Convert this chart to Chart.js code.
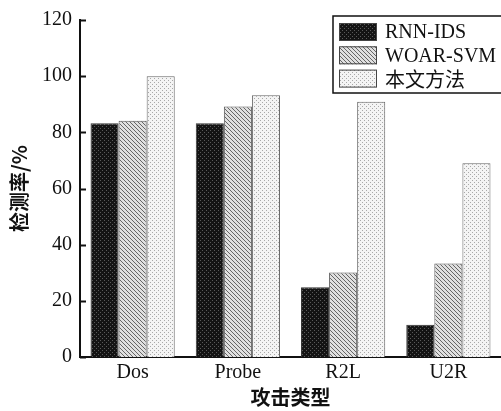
<!DOCTYPE html>
<html>
<head>
<meta charset="utf-8">
<script src="https://cdn.jsdelivr.net/npm/chart.js@4/dist/chart.umd.min.js"></script>
<style>
  html, body { margin: 0; padding: 0; background: #fff; }
  #wrap { width: 501px; height: 411px; }
</style>
</head>
<body>
<div id="wrap"><canvas id="detectChart" width="501" height="411"></canvas></div>
<script>
// Data
const attackTypes = ['Dos', 'Probe', 'R2L', 'U2R'];
const rnnIds = [83.2, 83.2, 24.8, 11.5];
const woarSvm = [84.1, 89.2, 30.1, 33.3];
const ourMethod = [100.0, 93.2, 90.9, 69.0];
const yTicks = [0, 20, 40, 60, 80, 100, 120];

// Small fill patterns like the printed figure
function makePattern(bg, drawFn, size) {
    const c = document.createElement('canvas');
    c.width = size; c.height = size;
    const g = c.getContext('2d');
    g.fillStyle = bg;
    g.fillRect(0, 0, size, size);
    drawFn(g);
    return document.getElementById('detectChart').getContext('2d').createPattern(c, 'repeat');
}

const darkDots = makePattern('#141414', g => {
    g.fillStyle = '#5a5a5a';
    g.fillRect(0, 0, 1, 1);
    g.fillRect(2, 2, 1, 1);
}, 4);

const hatch = makePattern('#e0e0e0', g => {
    g.strokeStyle = '#666';
    g.lineWidth = 1;
    g.beginPath();
    g.moveTo(0, 0); g.lineTo(4, 4);
    g.moveTo(-1, 3); g.lineTo(1, 5);
    g.moveTo(3, -1); g.lineTo(5, 1);
    g.stroke();
}, 4);

const lightDots = makePattern('#f4f4f4', g => {
    g.fillStyle = '#a8a8a8';
    g.fillRect(0, 0, 1, 1);
    g.fillRect(2, 2, 1, 1);
}, 4);

const serif = "'Liberation Serif', 'Times New Roman', serif";
const cjk = "'Noto Sans CJK SC', sans-serif";

// Inward tick marks on the y axis
const innerTicks = {
    id: 'innerTicks',
    afterDatasetsDraw(chart) {
        const ctx = chart.ctx;
        const y = chart.scales.y;
        const left = chart.chartArea.left;
        ctx.save();
        ctx.strokeStyle = '#111';
        ctx.lineWidth = 2;
        yTicks.forEach(v => {
            const py = Math.round(y.getPixelForValue(v)) + 0.5;
            ctx.beginPath();
            ctx.moveTo(left, py);
            ctx.lineTo(left + 6, py);
            ctx.stroke();
        });
        ctx.restore();
    }
};

// Boxed legend in the top right corner
const boxLegend = {
    id: 'boxLegend',
    afterDraw(chart) {
        const ctx = chart.ctx;
        const x0 = 333, y0 = 16, w = 175, h = 77;
        ctx.save();
        ctx.fillStyle = '#fff';
        ctx.fillRect(x0, y0, w, h);
        ctx.strokeStyle = '#111';
        ctx.lineWidth = 1.5;
        ctx.strokeRect(x0, y0, w, h);
        ctx.textBaseline = 'middle';
        chart.data.datasets.forEach((ds, i) => {
            const cy = 32 + i * 23.3;
            ctx.fillStyle = ds.backgroundColor;
            ctx.fillRect(339, cy - 9, 38, 18);
            ctx.strokeStyle = '#444';
            ctx.lineWidth = 1;
            ctx.strokeRect(339.5, cy - 8.5, 37, 17);
            ctx.fillStyle = '#111';
            ctx.font = (i === 2 ? '20px ' + cjk : '20px ' + serif);
            ctx.fillText(ds.label, 385, cy + 1);
        });
        ctx.restore();
    }
};

const ctx = document.getElementById('detectChart').getContext('2d');
const detectChart = new Chart(ctx, {
    type: 'bar',
    data: {
        labels: attackTypes,
        datasets: [
            { label: 'RNN-IDS', data: rnnIds, backgroundColor: darkDots, borderColor: '#333', borderWidth: 1 },
            { label: 'WOAR-SVM', data: woarSvm, backgroundColor: hatch, borderColor: '#555', borderWidth: 1 },
            { label: '本文方法', data: ourMethod, backgroundColor: lightDots, borderColor: '#666', borderWidth: 1 }
        ]
    },
    options: {
        responsive: false,
        animation: false,
        layout: { padding: { left: 0, right: 0, top: 17, bottom: 0 } },
        datasets: { bar: { barPercentage: 1.0, categoryPercentage: 0.8 } },
        plugins: {
            legend: { display: false },
            tooltip: { enabled: false }
        },
        scales: {
            x: {
                grid: { display: false, drawTicks: false },
                border: { display: true, color: '#111', width: 2 },
                ticks: { color: '#111', padding: 4, font: { family: serif, size: 20 } },
                title: {
                    display: true, text: '攻击类型', color: '#111',
                    font: { family: cjk, size: 20, weight: 'bold' },
                    padding: { top: 0, bottom: 2 }
                },
                afterFit: s => { s.height = 54; }
            },
            y: {
                min: 0, max: 120,
                afterBuildTicks: s => { s.ticks = yTicks.map(v => ({ value: v })); },
                grid: { display: false, drawTicks: false },
                border: { display: true, color: '#111', width: 2 },
                ticks: { color: '#111', padding: 8, font: { family: serif, size: 20 } },
                title: {
                    display: true, text: '检测率/%', color: '#111',
                    font: { family: cjk, size: 20, weight: 'bold' },
                    padding: { top: 7, bottom: 0 }
                },
                afterFit: s => { s.width = 80; }
            }
        }
    },
    plugins: [innerTicks, boxLegend]
});
</script>
</body>
</html>
